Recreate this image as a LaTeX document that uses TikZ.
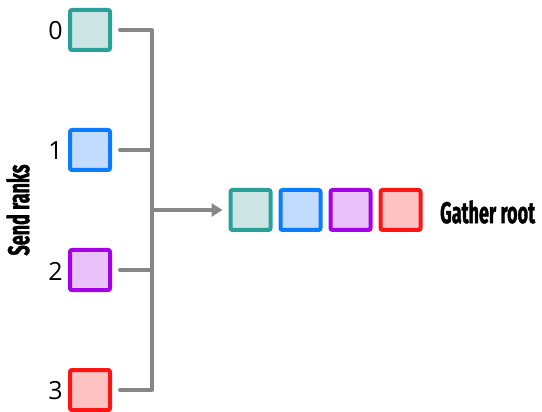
\documentclass[tikz,border=0pt]{standalone}
\usepackage{fontspec}
\setmainfont{Open Sans}
\newfontfamily\condbold[FakeStretch=0.6,FakeBold=1.2]{Fira Sans Bold}
\usetikzlibrary{arrows.meta}
\definecolor{cA}{HTML}{2AA198}\definecolor{fA}{HTML}{CCE5E4}
\definecolor{cB}{HTML}{0A7CFF}\definecolor{fB}{HTML}{C2DCFF}
\definecolor{cC}{HTML}{A300E8}\definecolor{fC}{HTML}{E8C2F8}
\definecolor{cD}{HTML}{FF1414}\definecolor{fD}{HTML}{FFC2C2}
\definecolor{wire}{HTML}{878787}
\tikzset{
  sq/.style={draw=#1, line width=4pt, rounded corners=2pt, minimum size=40pt, inner sep=0pt},
  conn/.style={draw=wire, line width=4pt},
  digit/.style={font=\fontsize{25}{25}\selectfont, inner sep=0pt},
  lab/.style={font=\condbold\fontsize{30}{30}\selectfont, inner sep=0pt}
}
\begin{document}
\begin{tikzpicture}[x=1pt,y=-1pt]
\useasboundingbox (0,0) rectangle (542,412);
\node[sq=cA, fill=fA] (s0) at (90,30) {};
\node[sq=cB, fill=fB] (s1) at (90,150) {};
\node[sq=cC, fill=fC] (s2) at (90,270) {};
\node[sq=cD, fill=fD] (s3) at (90,390) {};
\node[digit] (d0) at (55.5,31) {0};
\node[digit] (d1) at (55.5,151) {1};
\node[digit] (d2) at (55.5,271) {2};
\node[digit] (d3) at (55.5,391) {3};
\node[lab, rotate=90] (send) at (18,210) {Send ranks};
\coordinate (bus) at (152,210);
\draw[conn, line cap=round, line join=round] ([xshift=8pt]s0.east) -- (152,30) |- ([xshift=8pt]s3.east);
\draw[conn, line cap=round] ([xshift=8pt]s1.east) -- (152,150);
\draw[conn, line cap=round] ([xshift=8pt]s2.east) -- (152,270);
\node[sq=cA, fill=fA] (r0) at (250.5,210) {};
\node[sq=cB, fill=fB] (r1) at (300.5,210) {};
\node[sq=cC, fill=fC] (r2) at (350.5,210) {};
\node[sq=cD, fill=fD] (r3) at (400.5,210) {};
\draw[conn, -{Triangle[length=11pt,width=13pt]}] (bus) -- ([xshift=-6pt]r0.west);
\node[lab, anchor=west] (root) at (440,212) {Gather root};
\end{tikzpicture}
\end{document}
